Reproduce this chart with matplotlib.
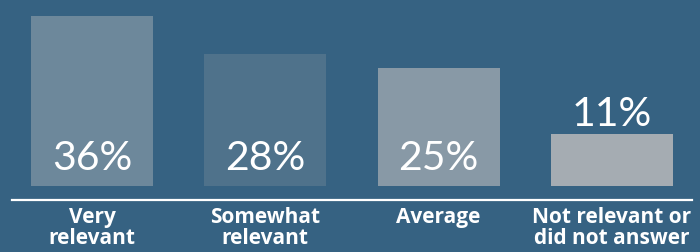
import matplotlib
matplotlib.use("Agg")
import matplotlib.pyplot as plt
from matplotlib.lines import Line2D

categories = ["Very\nrelevant", "Somewhat\nrelevant", "Average", "Not relevant or\ndid not answer"]
values = [36, 28, 25, 11]
value_labels = ["36%", "28%", "25%", "11%"]
bar_colors = ["#6d889b", "#4f728b", "#8899a6", "#a5acb2"]
bg = "#366282"

W, H = 700, 252
fig = plt.figure(figsize=(W / 100, H / 100), dpi=100, facecolor=bg)
bottom_px = 66  # bar base, px from bottom
ax = fig.add_axes([0, bottom_px / H, 1, 1 - bottom_px / H])
ax.set_facecolor(bg)
px_per_unit = 4.72
spacing = 173.3
ax.set_xlim(-92 / spacing, (W - 92) / spacing)
ax.set_ylim(0, (H - bottom_px) / px_per_unit)
x = list(range(len(values)))
ax.bar(x, values, width=122 / spacing, color=bar_colors, linewidth=0)
for i, (v, lab) in enumerate(zip(values, value_labels)):
    if v * px_per_unit > 60:
        y = 16 / px_per_unit
    else:
        y = v + 8 / px_per_unit
    ax.text(i, y, lab, ha="center", va="baseline", color="white",
            fontsize=29.5, family="Lato")
    ax.text(i, -21 / px_per_unit, categories[i], ha="center", va="top",
            color="white", fontsize=15, fontweight="bold", family="Open Sans",
            linespacing=0.98, clip_on=False)
ax.axis("off")
fig.add_artist(Line2D([12 / W, 692 / W], [52 / H, 52 / H], color="white", linewidth=1.6,
                      transform=fig.transFigure))
fig.savefig("out.png", dpi=100, facecolor=bg)
